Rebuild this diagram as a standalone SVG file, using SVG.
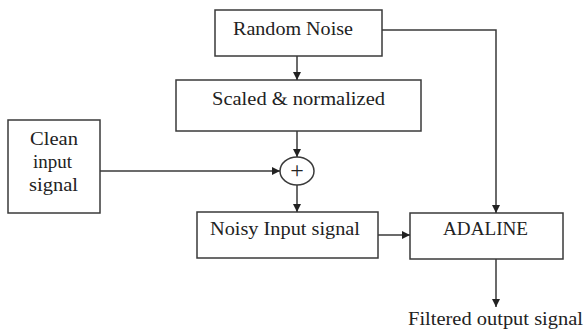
<svg xmlns="http://www.w3.org/2000/svg" width="584" height="331" viewBox="0 0 584 331">
  <style>
    .box { fill: #fff; stroke: #3a3a3a; stroke-width: 1.5; }
    .lbl { font-family: "Liberation Serif", "Times New Roman", serif; font-size: 18px; fill: #222; }
    .wire { fill: none; stroke: #3a3a3a; stroke-width: 1.5; }
  </style>
  <defs>
    <marker id="arrow" viewBox="0 0 10 10" refX="10" refY="5" markerWidth="8" markerHeight="8" markerUnits="userSpaceOnUse" orient="auto">
      <path d="M0,0 L10,5 L0,10 z" fill="#222"/>
    </marker>
  </defs>
  <rect width="584" height="331" fill="#fff"/>

  <g id="random-noise">
    <rect class="box" x="215" y="10" width="167" height="46"/>
    <text class="lbl" x="233" y="35" textLength="120" lengthAdjust="spacingAndGlyphs">Random Noise</text>
  </g>
  <g id="scaled">
    <rect class="box" x="176" y="80" width="245" height="51"/>
    <text class="lbl" x="212" y="105" textLength="173" lengthAdjust="spacingAndGlyphs">Scaled &amp; normalized</text>
  </g>
  <g id="clean-input">
    <rect class="box" x="8" y="120" width="92" height="93"/>
    <text class="lbl" x="30" y="145" textLength="48" lengthAdjust="spacingAndGlyphs">Clean</text>
    <text class="lbl" x="33" y="168" textLength="39" lengthAdjust="spacingAndGlyphs">input</text>
    <text class="lbl" x="29" y="191" textLength="49" lengthAdjust="spacingAndGlyphs">signal</text>
  </g>
  <g id="sum">
    <ellipse class="box" cx="297" cy="171" rx="17" ry="14"/>
    <text class="lbl" x="297" y="178" text-anchor="middle" style="font-size:24px">+</text>
  </g>
  <g id="noisy-input">
    <rect class="box" x="197" y="212" width="181" height="46"/>
    <text class="lbl" x="210" y="235" textLength="150" lengthAdjust="spacingAndGlyphs">Noisy Input signal</text>
  </g>
  <g id="adaline">
    <rect class="box" x="410" y="213" width="153" height="46"/>
    <text class="lbl" x="443" y="235" textLength="85" lengthAdjust="spacingAndGlyphs">ADALINE</text>
  </g>
  <g id="output">
    <text class="lbl" x="408" y="325" textLength="175" lengthAdjust="spacingAndGlyphs">Filtered output signal</text>
  </g>

  <g id="connectors">
    <line class="wire" x1="297" y1="56" x2="297" y2="80" marker-end="url(#arrow)"/>
    <line class="wire" x1="297" y1="131" x2="297" y2="157" marker-end="url(#arrow)"/>
    <line class="wire" x1="100" y1="171" x2="280" y2="171" marker-end="url(#arrow)"/>
    <line class="wire" x1="297" y1="185" x2="297" y2="212" marker-end="url(#arrow)"/>
    <line class="wire" x1="378" y1="235" x2="410" y2="235" marker-end="url(#arrow)"/>
    <polyline class="wire" points="382,30 496,30 496,213" marker-end="url(#arrow)"/>
    <line class="wire" x1="496" y1="259" x2="496" y2="307" marker-end="url(#arrow)"/>
  </g>
</svg>
